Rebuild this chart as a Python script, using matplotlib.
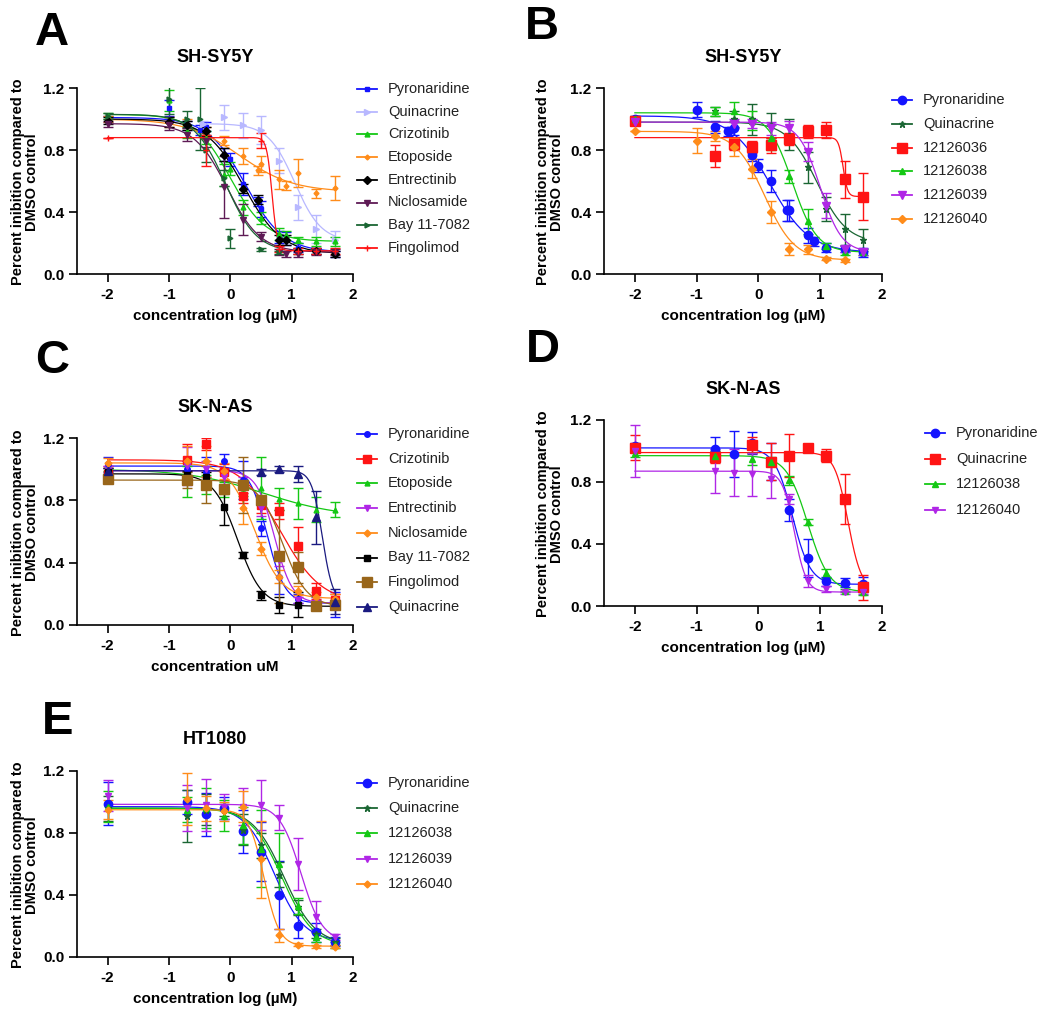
import numpy as np
import matplotlib
matplotlib.use("Agg")
import matplotlib.pyplot as plt
from matplotlib.lines import Line2D

plt.rcParams['font.family'] = ['Liberation Sans', 'DejaVu Sans']
plt.rcParams['axes.unicode_minus'] = False

#%% data  (log10 concentration, mean, error, and fit parameters top/bottom/logIC50/hill)
# ---- panel A : SH-SY5Y
a_names = ['Pyronaridine', 'Quinacrine', 'Crizotinib', 'Etoposide', 'Entrectinib',
           'Niclosamide', 'Bay 11-7082', 'Fingolimod']
a_x = [[-2, -1, -0.7, -0.5, -0.4, -0.1, 0, 0.2, 0.45, 0.5, 0.8, 0.9, 1.1, 1.4, 1.7],
       [-0.45, -0.1, 0.2, 0.5, 0.8, 1.1, 1.4, 1.7],
       [-2, -1, -0.7, -0.4, -0.1, 0, 0.2, 0.5, 0.8, 0.9, 1.1, 1.4, 1.7],
       [-2, -1, -0.7, -0.4, -0.1, 0.2, 0.45, 0.5, 0.8, 0.9, 1.1, 1.4, 1.7],
       [-2, -1, -0.7, -0.4, -0.1, 0.2, 0.45, 0.8, 0.9, 1.1, 1.4, 1.7],
       [-2, -1, -0.7, -0.4, -0.1, 0.2, 0.5, 0.8, 0.9, 1.1, 1.4, 1.7],
       [-2, -1, -0.7, -0.5, -0.4, -0.1, 0, 0.5, 0.8],
       [-2, -0.4, 0.5, 0.8, 1.1, 1.4, 1.7]]
a_y = [[1.0, 1.07, 0.96, 0.93, 0.95, 0.77, 0.74, 0.58, 0.47, 0.42, 0.24, 0.23, 0.17, 0.15, 0.13],
       [0.97, 1.01, 0.96, 0.93, 0.73, 0.43, 0.29, 0.22],
       [1.02, 1.12, 0.92, 0.88, 0.64, 0.68, 0.43, 0.36, 0.26, 0.25, 0.22, 0.21, 0.21],
       [1.0, 0.98, 0.97, 0.91, 0.86, 0.76, 0.67, 0.71, 0.61, 0.57, 0.65, 0.52, 0.555],
       [0.99, 0.98, 0.96, 0.92, 0.77, 0.55, 0.48, 0.22, 0.22, 0.15, 0.15, 0.13],
       [0.97, 0.96, 0.9, 0.86, 0.56, 0.35, 0.24, 0.14, 0.13, 0.13, 0.14, 0.14],
       [1.02, 1.13, 1.0, 1.0, 0.8, 0.62, 0.23, 0.16, 0.14],
       [0.88, 0.8, 0.86, 0.16, 0.15, 0.15, 0.15]]
a_err = [[0.02, 0.05, 0.03, 0.03, 0.03, 0.04, 0.04, 0.07, 0.03, 0.05, 0.04, 0.04, 0.03, 0.02, 0.02],
         [0.02, 0.08, 0.08, 0.09, 0.08, 0.08, 0.09, 0.06],
         [0.02, 0.07, 0.04, 0.04, 0.07, 0.04, 0.05, 0.04, 0.04, 0.03, 0.02, 0.03, 0.03],
         [0.02, 0.03, 0.03, 0.04, 0.03, 0.05, 0.03, 0.05, 0.06, 0.03, 0.09, 0.03, 0.08],
         [0.02, 0.03, 0.03, 0.03, 0.04, 0.03, 0.03, 0.03, 0.03, 0.02, 0.02, 0.02],
         [0.02, 0.03, 0.04, 0.04, 0.2, 0.1, 0.03, 0.02, 0.02, 0.02, 0.02, 0.02],
         [0.02, 0.1, 0.05, 0.2, 0.08, 0.05, 0.06, 0.01, 0.01],
         [0.0, 0.1, 0.05, 0.02, 0.02, 0.02, 0.02]]
a_fit = [(1.01, 0.14, 0.25, 1.4), (0.97, 0.21, 1.05, 2.0), (1.03, 0.21, 0.0, 1.5),
         (1.0, 0.53, 0.15, 1.0), (1.0, 0.13, 0.22, 1.4), (0.97, 0.14, -0.05, 1.6),
         (1.03, 0.14, -0.08, 1.7), (0.88, 0.15, 0.68, 10)]

# ---- panel B : SH-SY5Y
b_names = ['Pyronaridine', 'Quinacrine', '12126036', '12126038', '12126039', '12126040']
b_x = [[-2, -1, -0.7, -0.5, -0.4, -0.1, 0, 0.2, 0.47, 0.5, 0.8, 0.9, 1.1, 1.4, 1.7],
       [-2, -0.7, -0.4, -0.1, 0.2, 0.5, 0.8, 1.1, 1.4, 1.7],
       [-2, -0.7, -0.4, -0.1, 0.2, 0.5, 0.8, 1.1, 1.4, 1.7],
       [-2, -0.7, -0.4, -0.1, 0.2, 0.5, 0.8, 1.1, 1.4, 1.7],
       [-2, -0.4, -0.1, 0.2, 0.5, 0.8, 1.1, 1.4, 1.7],
       [-2, -1, -0.7, -0.4, -0.1, 0.2, 0.5, 0.8, 1.1, 1.4]]
b_y = [[1.0, 1.06, 0.95, 0.92, 0.94, 0.77, 0.70, 0.60, 0.41, 0.41, 0.25, 0.21, 0.17, 0.16, 0.14],
       [0.98, 1.05, 1.0, 1.0, 0.96, 0.9, 0.69, 0.42, 0.29, 0.22],
       [0.99, 0.76, 0.84, 0.82, 0.83, 0.87, 0.92, 0.93, 0.61, 0.5],
       [1.0, 1.05, 1.05, 0.99, 0.88, 0.63, 0.34, 0.18, 0.14, 0.14],
       [0.98, 0.97, 0.97, 0.94, 0.94, 0.79, 0.44, 0.16, 0.14],
       [0.92, 0.86, 0.89, 0.82, 0.68, 0.40, 0.16, 0.16, 0.10, 0.09]]
b_err = [[0.02, 0.05, 0.04, 0.03, 0.04, 0.04, 0.04, 0.07, 0.07, 0.07, 0.05, 0.03, 0.03, 0.02, 0.03],
         [0.02, 0.03, 0.05, 0.1, 0.08, 0.1, 0.1, 0.08, 0.1, 0.07],
         [0.02, 0.07, 0.04, 0.04, 0.05, 0.04, 0.04, 0.05, 0.12, 0.15],
         [0.02, 0.03, 0.06, 0.06, 0.08, 0.04, 0.08, 0.02, 0.02, 0.02],
         [0.02, 0.03, 0.03, 0.04, 0.05, 0.06, 0.08, 0.02, 0.02],
         [0.0, 0.08, 0.03, 0.06, 0.06, 0.07, 0.04, 0.03, 0.01, 0.01]]
b_fit = [(1.02, 0.14, 0.19, 1.38), (0.98, 0.20, 0.95, 1.8), (0.88, 0.50, 1.37, 12),
         (1.04, 0.14, 0.55, 2.2), (0.98, 0.14, 1.0, 2.5), (0.92, 0.09, 0.1, 1.8)]

# ---- panel C : SK-N-AS
c_names = ['Pyronaridine', 'Crizotinib', 'Etoposide', 'Entrectinib', 'Niclosamide',
           'Bay 11-7082', 'Fingolimod', 'Quinacrine']
c_conc = [-2, -0.7, -0.4, -0.1, 0.2, 0.5, 0.8, 1.1, 1.4, 1.7]
c_x = [c_conc] * 7 + [[-2, 0.5, 0.8, 1.1, 1.4, 1.7]]
c_y = [[1.03, 1.0, 0.98, 1.05, 0.93, 0.62, 0.31, 0.17, 0.15, 0.13],
       [0.97, 1.06, 1.16, 0.98, 0.83, 0.77, 0.73, 0.51, 0.22, 0.16],
       [0.96, 0.92, 0.9, 0.87, 0.88, 0.88, 0.81, 0.78, 0.74, 0.74],
       [0.99, 1.02, 1.0, 0.95, 0.9, 0.75, 0.42, 0.16, 0.14, 0.14],
       [1.04, 1.05, 1.05, 0.99, 0.75, 0.49, 0.31, 0.22, 0.18, 0.17],
       [0.98, 0.96, 0.95, 0.76, 0.45, 0.19, 0.13, 0.13, 0.12, 0.12],
       [0.94, 0.93, 0.90, 0.87, 0.90, 0.80, 0.44, 0.37, 0.12, 0.13],
       [0.99, 0.98, 1.0, 0.97, 0.69, 0.15]]
c_err = [[0.05, 0.05, 0.1, 0.05, 0.12, 0.05, 0.11, 0.03, 0.03, 0.08],
         [0.05, 0.1, 0.04, 0.05, 0.05, 0.05, 0.05, 0.12, 0.05, 0.04],
         [0.03, 0.1, 0.06, 0.05, 0.05, 0.2, 0.07, 0.1, 0.08, 0.05],
         [0.03, 0.12, 0.05, 0.05, 0.05, 0.05, 0.04, 0.02, 0.02, 0.02],
         [0.03, 0.1, 0.1, 0.05, 0.1, 0.04, 0.04, 0.03, 0.03, 0.03],
         [0.03, 0.03, 0.03, 0.12, 0.02, 0.03, 0.05, 0.08, 0.01, 0.01],
         [0.03, 0.05, 0.12, 0.03, 0.18, 0.03, 0.3, 0.1, 0.02, 0.03],
         [0.02, 0.02, 0.02, 0.05, 0.17, 0.08]]
c_fit = [(1.02, 0.14, 0.6, 3.0), (1.06, 0.14, 0.82, 1.3), (1.0, 0.69, 0.55, 0.7),
         (0.99, 0.14, 0.72, 3.0), (1.04, 0.17, 0.4, 2.0), (0.97, 0.12, 0.12, 2.2),
         (0.93, 0.12, 0.85, 2.2), (0.99, 0.14, 1.5, 5.0)]

# ---- panel D : SK-N-AS
d_names = ['Pyronaridine', 'Quinacrine', '12126038', '12126040']
d_x = [[-2, -0.7, -0.4, -0.1, 0.2, 0.5, 0.8, 1.1, 1.4, 1.7],
       [-2, -0.7, -0.1, 0.2, 0.5, 0.8, 1.1, 1.4, 1.7],
       [-2, -0.7, -0.1, 0.2, 0.5, 0.8, 1.1, 1.4, 1.7],
       [-2, -0.7, -0.4, -0.1, 0.2, 0.5, 0.8, 1.1, 1.4, 1.7]]
d_y = [[1.03, 1.01, 0.98, 1.05, 0.93, 0.62, 0.31, 0.16, 0.15, 0.14],
       [1.02, 0.96, 1.04, 0.93, 0.97, 1.02, 0.97, 0.69, 0.12],
       [0.99, 0.97, 0.95, 0.93, 0.81, 0.54, 0.21, 0.10, 0.09],
       [1.0, 0.87, 0.86, 0.85, 0.82, 0.69, 0.16, 0.11, 0.09, 0.09]]
d_err = [[0.02, 0.08, 0.15, 0.07, 0.12, 0.07, 0.12, 0.03, 0.03, 0.05],
         [0.08, 0.04, 0.05, 0.12, 0.14, 0.02, 0.04, 0.16, 0.08],
         [0.03, 0.03, 0.04, 0.03, 0.03, 0.02, 0.03, 0.01, 0.02],
         [0.17, 0.14, 0.15, 0.14, 0.12, 0.03, 0.04, 0.02, 0.01, 0.01]]
d_fit = [(1.02, 0.14, 0.55, 3.0), (0.99, 0.10, 1.45, 4.0), (0.97, 0.09, 0.8, 2.5),
         (0.87, 0.09, 0.58, 4.5)]

# ---- panel E : HT1080
e_names = ['Pyronaridine', 'Quinacrine', '12126038', '12126039', '12126040']
e_conc = [-2, -0.7, -0.4, -0.1, 0.2, 0.5, 0.8, 1.1, 1.4, 1.7]
e_x = [e_conc] * 5
e_y = [[0.99, 1.0, 0.92, 0.96, 0.81, 0.68, 0.40, 0.20, 0.16, 0.10],
       [0.96, 0.91, 0.95, 0.95, 0.82, 0.72, 0.53, 0.32, 0.15, 0.10],
       [0.97, 0.95, 0.96, 0.91, 0.85, 0.70, 0.60, 0.33, 0.13, 0.08],
       [1.04, 0.96, 0.98, 0.97, 0.97, 0.98, 0.90, 0.60, 0.26, 0.13],
       [0.95, 1.02, 0.96, 0.94, 0.97, 0.63, 0.14, 0.08, 0.07, 0.065]]
e_err = [[0.14, 0.08, 0.14, 0.07, 0.14, 0.19, 0.22, 0.08, 0.06, 0.03],
         [0.08, 0.17, 0.1, 0.04, 0.1, 0.08, 0.08, 0.05, 0.03, 0.02],
         [0.1, 0.08, 0.13, 0.1, 0.12, 0.25, 0.2, 0.05, 0.03, 0.02],
         [0.1, 0.15, 0.17, 0.08, 0.12, 0.16, 0.08, 0.17, 0.1, 0.02],
         [0.06, 0.17, 0.08, 0.06, 0.1, 0.25, 0.04, 0.01, 0.01, 0.01]]
e_fit = [(0.97, 0.10, 0.72, 1.8), (0.96, 0.08, 0.87, 1.7), (0.96, 0.07, 0.84, 1.7),
         (0.985, 0.10, 1.15, 2.5), (0.95, 0.07, 0.55, 3.5)]

#%% styles
BLUE, RED, GREEN, ORANGE = '#1414ff', '#ff1414', '#14c814', '#ff8c1a'
LAV, DPUR, DGRN, VIOL = '#b8b8ff', '#5e1a55', '#1a6633', '#b026e6'
BROWN, NAVY = '#99661a', '#1a1a80'

W, H = 1050, 1017
fig = plt.figure(figsize=(W / 100, H / 100), dpi=100)


def fx(x):
    return x / W


def fy(y):
    return 1 - y / H


def hill(x, top, bottom, logic50, slope):
    return bottom + (top - bottom) / (1 + 10 ** ((x - logic50) * slope))


def panel(box, letter, letter_xy, title, xlabel, names, xs, ys, errs, fits,
          colors, markers, msizes, leg_xy, pitch, ylab_x):
    left, top, right, bottom = box
    ax = fig.add_axes([fx(left), fy(bottom), (right - left) / W, (bottom - top) / H])
    for x, y, e, p, c, m, s in zip(xs, ys, errs, fits, colors, markers, msizes):
        xx = np.linspace(min(x), max(x), 300)
        ax.plot(xx, hill(xx, *p), color=c, lw=0.9)
        ax.errorbar(x, y, yerr=e, fmt=m, color=c, ms=s, capsize=3.5,
                    elinewidth=1.0, capthick=1.0, lw=0)
    ax.set_xlim(-2.5, 2)
    ax.set_ylim(0, 1.2)
    ax.set_xticks([-2, -1, 0, 1, 2])
    ax.set_yticks([0, 0.4, 0.8, 1.2])
    ax.set_yticklabels(['0.0', '0.4', '0.8', '1.2'])
    for sp in ['top', 'right']:
        ax.spines[sp].set_visible(False)
    for sp in ['left', 'bottom']:
        ax.spines[sp].set_linewidth(1.2)
    ax.tick_params(direction='out', length=6, width=1.2, labelsize=11, pad=4)
    ax.tick_params(axis='y', pad=3)
    for lab in ax.get_xticklabels() + ax.get_yticklabels():
        lab.set_fontweight('bold')
    cx = (left + right) / 2
    fig.text(fx(cx), fy(top - 31), title, ha='center', va='center',
             fontsize=13, fontweight='bold')
    fig.text(fx(cx), fy(bottom + 42), xlabel, ha='center', va='center',
             fontsize=11, fontweight='bold')
    fig.text(fx(ylab_x), fy((top + bottom) / 2 + 1),
             'Percent inibition compared to\nDMSO control', rotation=90,
             ha='center', va='center', multialignment='center',
             fontsize=10.5, fontweight='bold', linespacing=1.05)
    fig.text(fx(letter_xy[0]), fy(letter_xy[1]), letter, ha='center', va='center',
             fontsize=34, fontweight='bold')
    # legend: line + marker + name
    lx, ly = leg_xy
    for i, (n, c, m, s) in enumerate(zip(names, colors, markers, msizes)):
        yy = fy(ly + i * pitch)
        fig.add_artist(Line2D([fx(lx), fx(lx + 20)], [yy, yy], color=c, lw=1.3))
        fig.add_artist(Line2D([fx(lx + 10)], [yy], color=c, marker=m, ms=s, lw=0))
        fig.text(fx(lx + 31), yy, n, ha='left', va='center', fontsize=10.5,
                 color='#222222')
    return ax


panel((77, 88, 353, 274), 'A', (52, 33), 'SH-SY5Y', 'concentration log (\u00b5M)',
      a_names, a_x, a_y, a_err, a_fit,
      [BLUE, LAV, GREEN, ORANGE, 'black', DPUR, DGRN, RED],
      ['s', '>', '^', 'D', 'D', 'v', '>', '+'],
      [3.5, 4, 3.5, 2.5, 4, 4.5, 3.5, 4.5],
      (357, 89), 22.7, 25)

panel((604, 88, 882, 274), 'B', (542, 27), 'SH-SY5Y', 'concentration log (\u00b5M)',
      b_names, b_x, b_y, b_err, b_fit,
      [BLUE, DGRN, RED, GREEN, VIOL, ORANGE],
      ['o', '*', 's', '^', 'v', 'D'],
      [6, 5, 6.5, 5, 5.5, 4],
      (892, 100), 23.8, 550)

panel((77, 438, 353, 625), 'C', (52, 361), 'SK-N-AS', 'concentration uM',
      c_names, c_x, c_y, c_err, c_fit,
      [BLUE, RED, GREEN, VIOL, ORANGE, 'black', BROWN, NAVY],
      ['o', 's', '^', 'v', 'D', 's', 's', '^'],
      [4, 6, 3.5, 4.5, 3.5, 4.5, 7, 6],
      (357, 434), 24.7, 25)

panel((604, 420, 882, 606), 'D', (543, 350), 'SK-N-AS', 'concentration log (\u00b5M)',
      d_names, d_x, d_y, d_err, d_fit,
      [BLUE, RED, GREEN, VIOL],
      ['o', 's', '^', 'v'],
      [6, 6.5, 5, 5],
      (925, 433), 25.7, 550)

panel((77, 771, 353, 957), 'E', (58, 722), 'HT1080', 'concentration log (\u00b5M)',
      e_names, e_x, e_y, e_err, e_fit,
      [BLUE, DGRN, GREEN, VIOL, ORANGE],
      ['o', '*', '^', 'v', 'D'],
      [6, 4.5, 4.5, 5, 3.5],
      (357, 783), 25.2, 25)

fig.savefig('out.png', dpi=100)
